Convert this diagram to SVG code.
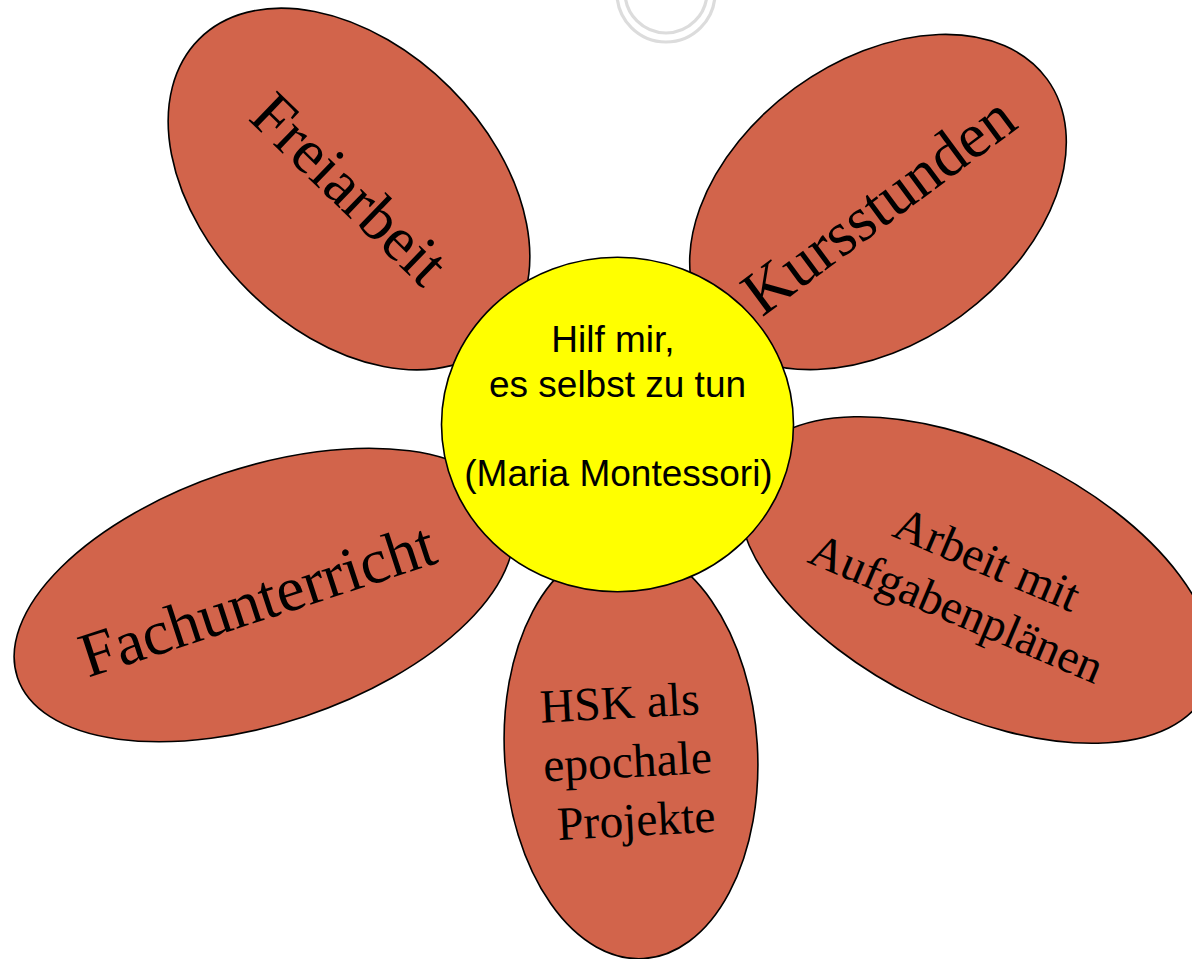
<svg xmlns="http://www.w3.org/2000/svg" width="1192" height="959" viewBox="0 0 1192 959">
<style>
.petal{fill:#D2644B;stroke:#000;stroke-width:1.6}
.pt{font-family:"Liberation Serif","Times New Roman",serif;fill:#000;text-anchor:middle}
.ct{font-family:"Liberation Sans",Arial,sans-serif;font-size:37px;fill:#000;text-anchor:middle}
.ring{fill:none;stroke:#dcdcdc;stroke-width:3.2}
</style>
<rect width="1192" height="959" fill="#fff"/>
<g id="deco">
<circle class="ring" cx="666" cy="-7" r="49"/>
<circle class="ring" cx="666" cy="-8" r="41"/>
</g>
<g id="connectors"/>
<g id="petal-freiarbeit">
<ellipse class="petal" cx="349" cy="189" rx="212" ry="143" transform="rotate(45 349 189)"/>
<text class="pt" font-size="63" transform="translate(335 204) rotate(44)">Freiarbeit</text>
</g>
<g id="petal-kursstunden">
<ellipse class="petal" cx="878" cy="202" rx="209" ry="141" transform="rotate(-36 878 202)"/>
<text class="pt" font-size="63.5" transform="translate(891 222) rotate(-36.5)">Kursstunden</text>
</g>
<g id="petal-fachunterricht">
<ellipse class="petal" cx="264" cy="595" rx="260" ry="128" transform="rotate(-18.5 264 595)"/>
<text class="pt" font-size="63.5" transform="translate(264 620) rotate(-18.2)">Fachunterricht</text>
</g>
<g id="petal-aufgaben">
<ellipse class="petal" cx="976" cy="580" rx="256" ry="132" transform="rotate(26 976 580)"/>
<g transform="translate(981 574) rotate(23)">
<text class="pt" font-size="47.5" x="0" y="0">Arbeit mit</text>
<text class="pt" font-size="47.5" x="-9" y="57">Aufgabenplänen</text>
</g>
</g>
<g id="petal-hsk">
<ellipse class="petal" cx="631" cy="752" rx="126.5" ry="207" transform="rotate(-3.5 631 752)"/>
<g transform="rotate(-3 631 762)" font-family="Liberation Serif,Times New Roman,serif" font-size="47.5">
<text x="543" y="718">HSK als</text>
<text x="543" y="777">epochale</text>
<text x="554" y="836">Projekte</text>
</g>
</g>
<g id="center">
<ellipse cx="617.5" cy="424.5" rx="176" ry="167.3" fill="#FFFF00" stroke="#000" stroke-width="1.6"/>
<text class="ct" x="613" y="352">Hilf mir,</text>
<text class="ct" x="617.5" y="397">es selbst zu tun</text>
<text class="ct" x="618.5" y="486">(Maria Montessori)</text>
</g>
</svg>
